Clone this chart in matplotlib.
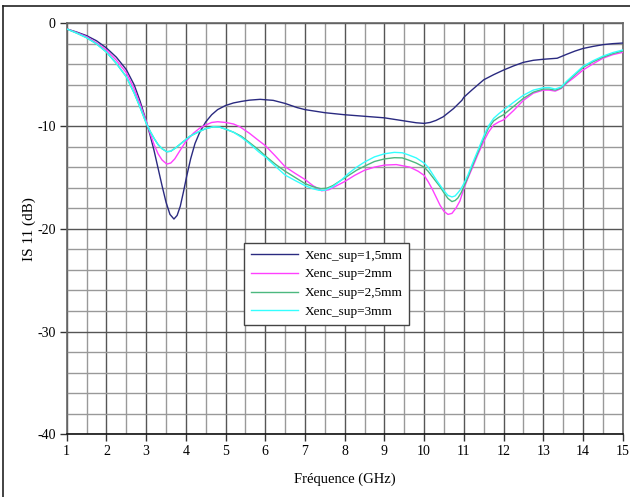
import matplotlib
matplotlib.use("Agg")
import matplotlib.pyplot as plt
from matplotlib.lines import Line2D
from matplotlib.ticker import MultipleLocator

plt.rcParams['font.family'] = ['Liberation Serif', 'DejaVu Serif']
plt.rcParams['axes.unicode_minus'] = False

# Xenc_sup = 1,5 mm
f_15 = [1.0, 1.25, 1.5, 1.75, 2.0, 2.25, 2.5, 2.7, 2.85, 3.0, 3.1, 3.2, 3.3, 3.4,
        3.5, 3.6, 3.7, 3.78, 3.86, 3.94, 4.02, 4.12, 4.23, 4.35, 4.5, 4.65, 4.8,
        5.0, 5.2, 5.4, 5.6, 5.87, 6.2, 6.5, 6.8, 7.0, 7.5, 8.0, 8.5, 9.0, 9.5,
        9.8, 10.0, 10.15, 10.3, 10.48, 10.74, 10.95, 11.0, 11.2, 11.5, 11.75,
        12.0, 12.25, 12.5, 12.75, 13.0, 13.35, 13.6, 13.8, 14.0, 14.25, 14.5,
        14.75, 15.0]
s_15 = [-0.55, -0.85, -1.2, -1.7, -2.4, -3.3, -4.5, -6.0, -7.6, -9.5, -10.9,
        -12.4, -14.1, -15.8, -17.4, -18.6, -19.05, -18.7, -17.8, -16.4, -14.9,
        -13.2, -11.7, -10.6, -9.6, -8.9, -8.4, -8.0, -7.75, -7.6, -7.48, -7.4,
        -7.5, -7.8, -8.2, -8.4, -8.7, -8.9, -9.05, -9.2, -9.5, -9.68, -9.74,
        -9.65, -9.45, -9.1, -8.3, -7.5, -7.2, -6.5, -5.5, -5.0, -4.55, -4.15,
        -3.8, -3.6, -3.5, -3.4, -3.0, -2.7, -2.45, -2.25, -2.08, -1.98, -1.92]

# Xenc_sup = 2 mm
f_2 = [1.0, 1.25, 1.5, 1.75, 2.0, 2.25, 2.5, 2.7, 2.85, 3.0, 3.1, 3.2, 3.3, 3.4,
       3.52, 3.62, 3.72, 3.85, 4.0, 4.19, 4.35, 4.5, 4.65, 4.8, 5.0, 5.2, 5.36,
       5.6, 5.83, 6.0, 6.25, 6.5, 6.75, 7.0, 7.2, 7.42, 7.6, 7.8, 8.0, 8.25, 8.5,
       8.75, 9.0, 9.3, 9.64, 9.85, 10.0, 10.1, 10.2, 10.3, 10.4, 10.5, 10.6,
       10.7, 10.8, 10.9, 11.0, 11.1, 11.2, 11.35, 11.5, 11.62, 11.75, 11.88,
       12.0, 12.25, 12.5, 12.75, 13.0, 13.15, 13.3, 13.45, 13.6, 13.8, 14.0,
       14.25, 14.5, 14.75, 15.0]
s_2 = [-0.55, -0.9, -1.3, -1.9, -2.6, -3.6, -4.8, -6.4, -7.9, -9.5, -10.7,
       -11.8, -12.7, -13.3, -13.7, -13.6, -13.2, -12.4, -11.5, -10.7, -10.2,
       -9.9, -9.65, -9.58, -9.65, -9.8, -10.07, -10.7, -11.4, -11.9, -12.9,
       -13.96, -14.6, -15.2, -15.8, -16.3, -16.2, -15.8, -15.4, -14.8, -14.3,
       -14.0, -13.8, -13.75, -14.0, -14.4, -14.8, -15.4, -16.1, -16.9, -17.7,
       -18.3, -18.6, -18.5, -18.0, -17.3, -16.1, -15.1, -14.2, -12.8, -11.5,
       -10.6, -9.9, -9.6, -9.4, -8.5, -7.5, -6.8, -6.5, -6.5, -6.6, -6.35,
       -5.8, -5.2, -4.55, -3.95, -3.4, -3.05, -2.83]

# Xenc_sup = 2,5 mm
f_25 = [1.0, 1.25, 1.5, 1.75, 2.0, 2.25, 2.5, 2.7, 2.85, 3.0, 3.1, 3.2, 3.3, 3.4,
        3.52, 3.62, 3.75, 3.94, 4.1, 4.3, 4.5, 4.69, 4.85, 5.0, 5.2, 5.4, 5.6,
        5.83, 6.0, 6.25, 6.5, 6.75, 7.0, 7.2, 7.4, 7.55, 7.7, 7.9, 8.1, 8.3, 8.5,
        8.75, 9.0, 9.25, 9.45, 9.6, 9.8, 10.0, 10.1, 10.2, 10.3, 10.4, 10.5,
        10.6, 10.7, 10.78, 10.85, 10.93, 11.0, 11.1, 11.2, 11.35, 11.5, 11.62,
        11.75, 11.88, 12.0, 12.25, 12.5, 12.75, 13.0, 13.15, 13.3, 13.45, 13.6,
        13.8, 14.0, 14.25, 14.5, 14.75, 15.0]
s_25 = [-0.55, -0.95, -1.4, -2.0, -2.8, -3.9, -5.2, -6.8, -8.2, -9.7, -10.5,
        -11.2, -11.8, -12.2, -12.5, -12.45, -12.1, -11.5, -11.0, -10.6, -10.25,
        -10.07, -10.1, -10.3, -10.6, -11.0, -11.6, -12.3, -12.9, -13.7, -14.4,
        -15.0, -15.6, -15.9, -16.1, -16.05, -15.8, -15.3, -14.8, -14.3, -13.9,
        -13.45, -13.2, -13.08, -13.1, -13.3, -13.6, -14.0, -14.4, -14.9, -15.4,
        -15.9, -16.5, -17.05, -17.35, -17.25, -17.0, -16.5, -15.9, -15.0, -14.0,
        -12.6, -11.2, -10.2, -9.5, -9.15, -8.9, -8.1, -7.3, -6.7, -6.4, -6.4,
        -6.5, -6.3, -5.7, -5.0, -4.3, -3.75, -3.3, -2.95, -2.7]

# Xenc_sup = 3 mm
f_3 = [1.0, 1.25, 1.5, 1.75, 2.0, 2.25, 2.5, 2.7, 2.85, 3.0, 3.1, 3.2, 3.3, 3.4,
       3.52, 3.62, 3.75, 3.94, 4.1, 4.3, 4.5, 4.69, 4.85, 5.0, 5.2, 5.4, 5.6,
       5.83, 6.0, 6.25, 6.5, 6.75, 7.0, 7.2, 7.35, 7.5, 7.7, 7.9, 8.1, 8.3, 8.5,
       8.75, 9.0, 9.25, 9.45, 9.6, 9.8, 10.0, 10.1, 10.2, 10.3, 10.4, 10.5,
       10.6, 10.7, 10.78, 10.85, 10.93, 11.0, 11.1, 11.2, 11.35, 11.5, 11.62,
       11.75, 11.88, 12.0, 12.25, 12.5, 12.75, 13.0, 13.15, 13.3, 13.45, 13.6,
       13.8, 14.0, 14.25, 14.5, 14.75, 15.0]
s_3 = [-0.55, -0.95, -1.4, -2.0, -2.8, -3.9, -5.2, -6.8, -8.2, -9.7, -10.5,
       -11.2, -11.8, -12.2, -12.5, -12.45, -12.1, -11.5, -11.0, -10.6, -10.25,
       -10.07, -10.1, -10.3, -10.6, -11.1, -11.7, -12.5, -13.0, -13.9, -14.77,
       -15.3, -15.8, -16.1, -16.25, -16.25, -15.9, -15.3, -14.6, -14.0, -13.5,
       -13.0, -12.7, -12.56, -12.6, -12.8, -13.1, -13.6, -14.0, -14.6, -15.2,
       -15.75, -16.3, -16.75, -16.9, -16.8, -16.5, -16.1, -15.6, -14.8, -13.8,
       -12.4, -11.0, -10.0, -9.25, -8.8, -8.44, -7.7, -7.0, -6.5, -6.27, -6.25,
       -6.4, -6.2, -5.6, -4.9, -4.2, -3.65, -3.2, -2.85, -2.6]

labels = ['Xenc_sup=1,5mm', 'Xenc_sup=2mm', 'Xenc_sup=2,5mm', 'Xenc_sup=3mm']
colors = ['#2a2a80', '#ff40ff', '#4cb87f', '#33ffff']

fig = plt.figure(figsize=(6.3, 4.97), dpi=100)
ax = fig.add_axes([0.1059, 0.1262, 0.8825, 0.8269])

series = [(f_15, s_15), (f_2, s_2), (f_25, s_25), (f_3, s_3)]
for (f, s), lab, col in zip(series, labels, colors):
    ax.plot(f, s, color=col, lw=1.0, label=lab, zorder=3)

ax.set_xlim(1, 15)
ax.set_ylim(-40, 0)
ax.xaxis.set_major_locator(MultipleLocator(1))
ax.xaxis.set_minor_locator(MultipleLocator(0.5))
ax.yaxis.set_major_locator(MultipleLocator(10))
ax.yaxis.set_minor_locator(MultipleLocator(2))
ax.grid(which='major', color='#555555', lw=1.0)
ax.grid(which='minor', color='#999999', lw=1.0)
ax.set_axisbelow(True)

ax.tick_params(which='major', direction='out', length=5, width=1,
               color='#333333', labelsize=10, pad=3)
ax.tick_params(which='minor', length=0)
for sp in ax.spines.values():
    sp.set_color('#666666')
    sp.set_linewidth(1.2)
ax.spines['bottom'].set_color('#111111')

ax.set_xlabel('Fréquence (GHz)', fontsize=10.5, labelpad=10)
ax.set_ylabel('IS 11 (dB)', fontsize=11, labelpad=1)

leg = ax.legend(loc='upper left', bbox_to_anchor=(0.319, 0.466), borderaxespad=0,
                fancybox=False, framealpha=1, edgecolor='#444444',
                fontsize=9.5, handlelength=3.6, handletextpad=0.5,
                labelspacing=0.5, borderpad=0.5)
leg.get_frame().set_linewidth(1.0)

# outer frame of the figure (only top and left edges visible)
fig.add_artist(Line2D([3 / 630, 1], [1 - 6 / 497, 1 - 6 / 497],
                      transform=fig.transFigure, color='#222222', lw=1.2))
fig.add_artist(Line2D([3 / 630, 3 / 630], [0, 1 - 6 / 497],
                      transform=fig.transFigure, color='#222222', lw=1.2))

fig.savefig('out.png', dpi=100)
